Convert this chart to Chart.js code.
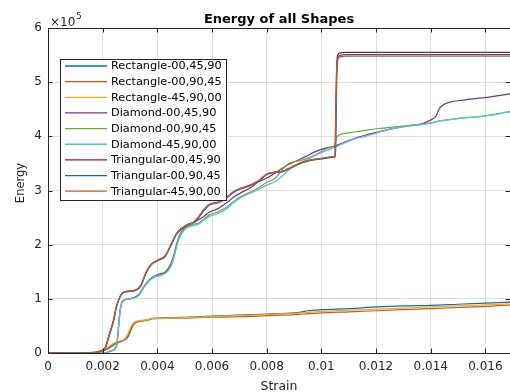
<!DOCTYPE html>
<html>
<head>
<meta charset="utf-8">
<script src="https://cdn.jsdelivr.net/npm/chart.js@4.4.0/dist/chart.umd.min.js"></script>
<style>
html,body{margin:0;padding:0;background:#ffffff;}
canvas{display:block;}
</style>
</head>
<body>
<canvas id="c" width="510" height="392"></canvas>
<script>
// ---------- data (energy in units of 1e5) ----------
const chartTitle = 'Energy of all Shapes';
const xLabel = 'Strain';
const yLabel = 'Energy';
const yExponent = '5';

const seriesLabels = [
  'Rectangle-00,45,90', 'Rectangle-00,90,45', 'Rectangle-45,90,00',
  'Diamond-00,45,90', 'Diamond-00,90,45', 'Diamond-45,90,00',
  'Triangular-00,45,90', 'Triangular-00,90,45', 'Triangular-45,90,00'
];
const seriesColors = ['#0072BD', '#D95319', '#EDB120', '#7E2F8E', '#77AC30', '#4DBEEE', '#A2142F', '#0072BD', '#D95319'];

const rectStrain = [0, 0.0014, 0.0017, 0.0020, 0.0022, 0.0024, 0.0026, 0.0028, 0.0029, 0.0030,
  0.0031, 0.0032, 0.0034, 0.0036, 0.0037, 0.0038, 0.0040, 0.0045, 0.0050, 0.0060,
  0.0070, 0.0080, 0.0090, 0.0093, 0.0095, 0.0100, 0.0110, 0.0120, 0.0130, 0.0140,
  0.0150, 0.0160, 0.0170];
const rect004590 = [0, 0, 0.01, 0.04, 0.08, 0.15, 0.2, 0.24, 0.28, 0.38,
  0.5, 0.56, 0.59, 0.61, 0.62, 0.64, 0.645, 0.65, 0.66, 0.68,
  0.7, 0.72, 0.74, 0.76, 0.78, 0.8, 0.82, 0.85, 0.87, 0.88,
  0.9, 0.92, 0.94];
const rect009045 = [0, 0, 0.01, 0.04, 0.09, 0.16, 0.21, 0.25, 0.3, 0.4,
  0.52, 0.57, 0.59, 0.6, 0.61, 0.63, 0.635, 0.64, 0.645, 0.66,
  0.67, 0.69, 0.71, 0.72, 0.725, 0.74, 0.76, 0.78, 0.8, 0.82,
  0.84, 0.86, 0.89];
const rect459000 = [0, 0.005, 0.02, 0.06, 0.11, 0.18, 0.22, 0.26, 0.33, 0.45,
  0.54, 0.58, 0.6, 0.61, 0.62, 0.64, 0.64, 0.645, 0.655, 0.67,
  0.69, 0.71, 0.73, 0.74, 0.75, 0.77, 0.79, 0.81, 0.83, 0.85,
  0.87, 0.89, 0.91];

const diaStrain = [0, 0.0018, 0.0021, 0.0023, 0.0025, 0.00255, 0.0026, 0.00265, 0.0027, 0.0028,
  0.0030, 0.0033, 0.0035, 0.0037, 0.0039, 0.0041, 0.0043, 0.0045, 0.0046, 0.0047,
  0.0048, 0.0050, 0.0053, 0.0055, 0.0057, 0.0059, 0.0062, 0.0065, 0.0068, 0.0071,
  0.0074, 0.0077, 0.0080, 0.0083, 0.0086, 0.0088, 0.0091, 0.0094, 0.0097, 0.0100,
  0.0103, 0.0105, 0.01055, 0.0108, 0.0112, 0.0116, 0.0120, 0.0124, 0.0128, 0.0132,
  0.0136, 0.0140, 0.0142, 0.0143, 0.0144, 0.0147, 0.0152, 0.0157, 0.0162, 0.0166,
  0.0170];
const dia004590 = [0, 0, 0, 0.04, 0.12, 0.3, 0.6, 0.82, 0.93, 0.98,
  1.0, 1.07, 1.22, 1.35, 1.42, 1.46, 1.5, 1.65, 1.8, 2.0,
  2.16, 2.32, 2.4, 2.46, 2.52, 2.6, 2.66, 2.76, 2.88, 2.97,
  3.05, 3.16, 3.23, 3.32, 3.42, 3.48, 3.55, 3.62, 3.7, 3.76,
  3.8, 3.82, 3.83, 3.88, 3.96, 4.02, 4.07, 4.12, 4.16, 4.2,
  4.22, 4.3, 4.38, 4.5, 4.56, 4.63, 4.67, 4.7, 4.73, 4.76,
  4.79];
const dia009045 = [0, 0, 0, 0.04, 0.12, 0.3, 0.6, 0.82, 0.93, 0.98,
  1.0, 1.06, 1.21, 1.34, 1.41, 1.44, 1.48, 1.62, 1.77, 1.97,
  2.14, 2.3, 2.37, 2.4, 2.47, 2.55, 2.6, 2.68, 2.8, 2.9,
  2.97, 3.05, 3.15, 3.22, 3.4, 3.5, 3.54, 3.58, 3.64, 3.72,
  3.79, 3.84, 3.98, 4.05, 4.08, 4.11, 4.14, 4.16, 4.18, 4.2,
  4.22, 4.25, 4.27, 4.28, 4.29, 4.31, 4.34, 4.36, 4.39, 4.43,
  4.46];
const dia459000 = [0, 0, 0, 0.04, 0.12, 0.3, 0.6, 0.82, 0.93, 0.98,
  1.0, 1.05, 1.2, 1.33, 1.4, 1.43, 1.47, 1.6, 1.75, 1.95,
  2.12, 2.28, 2.35, 2.38, 2.45, 2.52, 2.57, 2.65, 2.78, 2.88,
  2.95, 3.02, 3.1, 3.16, 3.28, 3.38, 3.47, 3.55, 3.63, 3.7,
  3.76, 3.8, 3.81, 3.87, 3.95, 4.0, 4.06, 4.12, 4.16, 4.19,
  4.21, 4.25, 4.27, 4.28, 4.29, 4.31, 4.34, 4.36, 4.39, 4.43,
  4.46];

const triStrain = [0, 0.0015, 0.0019, 0.0021, 0.00225, 0.0024, 0.0025, 0.0026, 0.0027, 0.0029,
  0.0032, 0.0034, 0.0036, 0.0038, 0.0040, 0.0043, 0.0045, 0.0047, 0.0049, 0.0051,
  0.0053, 0.0055, 0.0057, 0.0059, 0.0062, 0.0065, 0.0068, 0.0071, 0.0074, 0.0077,
  0.0080, 0.0083, 0.0086, 0.0089, 0.0092, 0.0095, 0.0098, 0.0101, 0.0104, 0.0105,
  0.01053, 0.01056, 0.0106, 0.0107, 0.0109, 0.0120, 0.0140, 0.0160, 0.0170];
const tri004590 = [0, 0, 0.03, 0.1, 0.35, 0.6, 0.85, 1.0, 1.1, 1.14,
  1.16, 1.25, 1.5, 1.65, 1.71, 1.8, 2.0, 2.2, 2.3, 2.37,
  2.41, 2.5, 2.64, 2.74, 2.78, 2.86, 2.98, 3.05, 3.1, 3.18,
  3.3, 3.34, 3.36, 3.43, 3.5, 3.55, 3.58, 3.6, 3.62, 3.63,
  4.6, 5.3, 5.5, 5.54, 5.55, 5.55, 5.55, 5.55, 5.55];
const tri009045 = [0, 0, 0.03, 0.1, 0.34, 0.6, 0.84, 0.99, 1.09, 1.13,
  1.15, 1.24, 1.49, 1.64, 1.7, 1.79, 1.99, 2.19, 2.3, 2.36,
  2.4, 2.49, 2.63, 2.73, 2.77, 2.85, 2.97, 3.04, 3.09, 3.17,
  3.29, 3.33, 3.35, 3.42, 3.49, 3.54, 3.57, 3.59, 3.61, 3.62,
  3.9, 5.0, 5.42, 5.5, 5.51, 5.51, 5.51, 5.51, 5.51];
const tri459000 = [0, 0, 0.03, 0.11, 0.36, 0.61, 0.86, 1.0, 1.1, 1.14,
  1.16, 1.26, 1.51, 1.65, 1.71, 1.8, 2.01, 2.21, 2.31, 2.37,
  2.41, 2.51, 2.65, 2.74, 2.78, 2.86, 2.98, 3.05, 3.1, 3.18,
  3.3, 3.34, 3.36, 3.43, 3.5, 3.55, 3.58, 3.6, 3.62, 3.63,
  4.5, 5.25, 5.43, 5.47, 5.48, 5.48, 5.48, 5.48, 5.48];

const seriesStrain = [rectStrain, rectStrain, rectStrain, diaStrain, diaStrain, diaStrain, triStrain, triStrain, triStrain];
const seriesEnergy = [rect004590, rect009045, rect459000, dia004590, dia009045, dia459000, tri004590, tri009045, tri459000];

const xTickStep = 0.002;
const xMin = 0, xMax = 0.0169;
const yMin = 0, yMax = 6, yTickStep = 1;

// ---------- styling ----------
const FONT = "'DejaVu Sans', 'Liberation Sans', sans-serif";
const AXIS = '#262626';
const GRID = 'rgba(38,38,38,0.14)';

const datasets = seriesLabels.map((lab, i) => ({
  label: lab,
  data: seriesStrain[i].map((s, k) => ({ x: s, y: seriesEnergy[i][k] })),
  borderColor: seriesColors[i],
  backgroundColor: seriesColors[i],
  borderWidth: 1.25,
  pointRadius: 0,
  fill: false,
  cubicInterpolationMode: 'monotone',
  order: seriesLabels.length - i
}));

const decor = {
  id: 'decor',
  afterDraw(chart) {
    const { ctx, chartArea: a } = chart;
    const xs = chart.scales.x, ys = chart.scales.y;
    ctx.save();
    ctx.strokeStyle = AXIS;
    ctx.lineWidth = 1;
    ctx.beginPath();
    ctx.moveTo(a.left, Math.round(a.top) + 0.5);
    ctx.lineTo(a.right, Math.round(a.top) + 0.5);
    xs.ticks.forEach(t => {
      const px = Math.round(xs.getPixelForValue(t.value)) + 0.5;
      ctx.moveTo(px, a.bottom); ctx.lineTo(px, a.bottom - 4.5);
      ctx.moveTo(px, a.top); ctx.lineTo(px, a.top + 4.5);
    });
    ys.ticks.forEach(t => {
      const py = Math.round(ys.getPixelForValue(t.value)) + 0.5;
      ctx.moveTo(a.left, py); ctx.lineTo(a.left + 4.5, py);
      ctx.moveTo(a.right, py); ctx.lineTo(a.right - 4.5, py);
    });
    ctx.stroke();

    ctx.fillStyle = '#000000';
    // title
    ctx.font = 'bold 13px ' + FONT;
    ctx.textAlign = 'center';
    ctx.textBaseline = 'alphabetic';
    ctx.fillText(chartTitle, (a.left + a.right) / 2, 23);

    // exponent
    ctx.fillStyle = AXIS;
    ctx.font = '12px ' + FONT;
    ctx.textAlign = 'left';
    ctx.fillText('\u00D710', 50, 25.5);
    ctx.font = '9px ' + FONT;
    ctx.fillText(yExponent, 76, 18.5);

    // axis labels
    ctx.font = '12.5px ' + FONT;
    ctx.textAlign = 'center';
    ctx.fillText(xLabel, (a.left + a.right) / 2, 389.5);
    ctx.font = '11.5px ' + FONT;
    ctx.save();
    ctx.translate(24, 183);
    ctx.rotate(-Math.PI / 2);
    ctx.fillText(yLabel, 0, 0);
    ctx.restore();

    // legend
    const lx = 60.5, ly = 59.5, lw = 166, lh = 141;
    ctx.fillStyle = '#ffffff';
    ctx.fillRect(lx, ly, lw, lh);
    ctx.strokeStyle = AXIS;
    ctx.lineWidth = 1;
    ctx.strokeRect(lx, ly, lw, lh);
    ctx.font = '11.3px ' + FONT;
    ctx.textAlign = 'left';
    ctx.textBaseline = 'middle';
    chart.data.datasets.forEach((ds, i) => {
      const ry = 66 + i * 15.65;
      ctx.strokeStyle = ds.borderColor;
      ctx.lineWidth = 1.3;
      ctx.beginPath();
      ctx.moveTo(65, ry); ctx.lineTo(107, ry);
      ctx.stroke();
      ctx.fillStyle = '#000000';
      ctx.fillText(ds.label, 111, ry + 0.5);
    });
    ctx.restore();
  }
};

new Chart(document.getElementById('c'), {
  type: 'line',
  data: { datasets },
  options: {
    responsive: false,
    animation: false,
    events: [],
    layout: { padding: { top: 28, right: 0, left: 0, bottom: 0 } },
    plugins: { legend: { display: false }, tooltip: { enabled: false }, title: { display: false } },
    scales: {
      x: {
        type: 'linear',
        min: xMin, max: xMax,
        afterFit: s => { s.height = 39; },
        ticks: {
          stepSize: xTickStep, includeBounds: false, autoSkip: false, maxRotation: 0,
          padding: 7, color: AXIS, font: { family: FONT, size: 12 },
          callback: v => String(+v.toFixed(4))
        },
        grid: { color: GRID, drawTicks: false, lineWidth: 1 },
        border: { display: true, color: AXIS, width: 1 }
      },
      y: {
        type: 'linear',
        min: yMin, max: yMax,
        afterFit: s => { s.width = 48; },
        ticks: {
          stepSize: yTickStep, includeBounds: false, padding: 6, color: AXIS,
          font: { family: FONT, size: 12 },
          callback: v => String(v)
        },
        grid: { color: GRID, drawTicks: false, lineWidth: 1 },
        border: { display: true, color: AXIS, width: 1 }
      }
    }
  },
  plugins: [decor]
});
</script>
</body>
</html>
